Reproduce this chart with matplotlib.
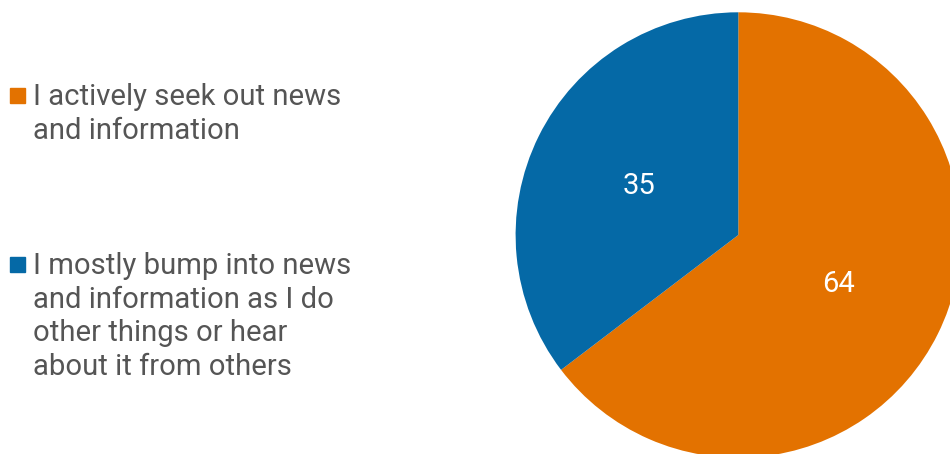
import matplotlib.pyplot as plt
from matplotlib.patches import Rectangle

plt.rcParams['font.family'] = ['Roboto', 'DejaVu Sans']

labels = [
    "I actively seek out news\nand information",
    "I mostly bump into news\nand information as I do\nother things or hear\nabout it from others",
]
values = [64, 35]
colors = ['#E37200', '#0569A6']
text_color = '#555555'

W, H = 950, 454
fig = plt.figure(figsize=(W / 100, H / 100), dpi=100)

# pie sits on the right, partly running off the canvas
cx, cy, r = 738.3, 235.0, 222.7
ax = fig.add_axes([(cx - r) / W, (H - cy - r) / H, 2 * r / W, 2 * r / H])
wedges, texts = ax.pie(
    values, colors=colors, startangle=90, counterclock=False,
    labels=[str(v) for v in values], labeldistance=0.5,
    textprops=dict(color='white', fontsize=21, ha='center', va='center'),
    wedgeprops=dict(linewidth=0),
)
ax.set_xlim(-1, 1)
ax.set_ylim(-1, 1)
ax.set_aspect('equal')
ax.axis('off')

# legend drawn by hand so the swatch lines up with the first text line
baselines = [105, 274]
for lab, col, base in zip(labels, colors, baselines):
    fig.patches.append(Rectangle((10 / W, 1 - (base - 2) / H), 15 / W, 15 / H,
                                 transform=fig.transFigure, color=col))
    fig.text(33 / W, 1 - (base - 22) / H, lab, color=text_color,
             fontsize=21.1, ha='left', va='top', linespacing=1.26)

fig.savefig('out.png', dpi=100)
